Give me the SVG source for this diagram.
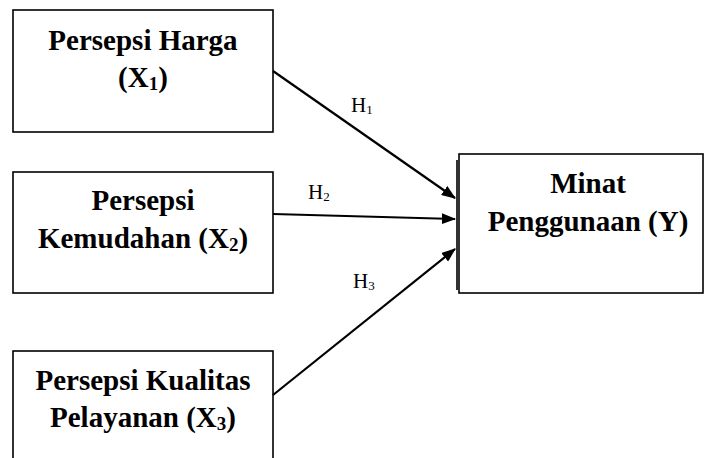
<svg xmlns="http://www.w3.org/2000/svg" width="706" height="458" viewBox="0 0 706 458">
<style>
.box{fill:#fff;stroke:#000;stroke-width:1.6}
.t{font-family:"Liberation Serif","Times New Roman",serif;font-weight:bold;font-size:29px;fill:#000;text-anchor:middle}
.sub{font-size:19px}
.h{font-family:"Liberation Serif","Times New Roman",serif;font-size:21px;fill:#000}
.hs{font-size:13px}
.c{stroke:#000;stroke-width:2.2;fill:none;marker-end:url(#ah)}
</style>
<defs>
<marker id="ah" markerWidth="6.5" markerHeight="5" refX="6" refY="2.5" orient="auto" markerUnits="strokeWidth">
<path d="M0,0 L6.5,2.5 L0,5 z" fill="#000"/>
</marker>
</defs>
<rect width="706" height="458" fill="#fff"/>
<g id="x1">
<rect class="box" x="13" y="10" width="260" height="122"/>
<text class="t" x="143" y="50">Persepsi Harga</text>
<text class="t" x="143" y="87">(X<tspan class="sub" dy="3">1</tspan><tspan dy="-3">)</tspan></text>
</g>
<g id="x2">
<rect class="box" x="13" y="172" width="260" height="121"/>
<text class="t" x="143" y="210">Persepsi</text>
<text class="t" x="143" y="248">Kemudahan (X<tspan class="sub" dy="3">2</tspan><tspan dy="-3">)</tspan></text>
</g>
<g id="x3">
<rect class="box" x="13" y="351" width="260" height="120"/>
<text class="t" x="143" y="390">Persepsi Kualitas</text>
<text class="t" x="143" y="427">Pelayanan (X<tspan class="sub" dy="3">3</tspan><tspan dy="-3">)</tspan></text>
</g>
<g id="y">
<rect class="box" x="459" y="154" width="244" height="139"/>
<line x1="457" y1="160" x2="457" y2="290" stroke="#000" stroke-width="1.6"/>
<text class="t" x="588" y="193">Minat</text>
<text class="t" x="588" y="231">Penggunaan (Y)</text>
</g>
<g id="connectors">
<line class="c" x1="273" y1="71" x2="455" y2="198"/>
<line class="c" x1="273" y1="214" x2="455" y2="219"/>
<line class="c" x1="273" y1="395" x2="455" y2="249"/>
<text class="h" x="351" y="112">H<tspan class="hs" dy="2">1</tspan></text>
<text class="h" x="308" y="199">H<tspan class="hs" dy="2">2</tspan></text>
<text class="h" x="353" y="288">H<tspan class="hs" dy="2">3</tspan></text>
</g>
</svg>
